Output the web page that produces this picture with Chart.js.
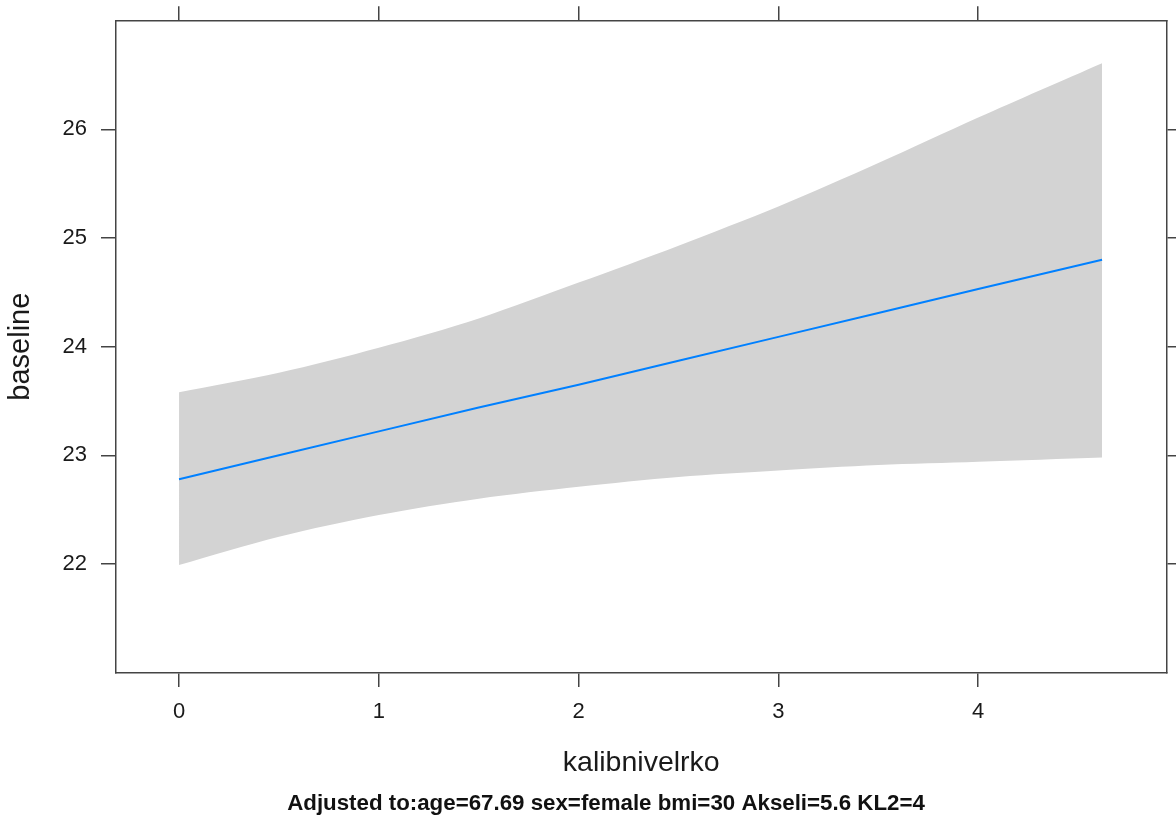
<!DOCTYPE html>
<html>
<head>
<meta charset="utf-8">
<script src="https://cdn.jsdelivr.net/npm/chart.js@4.4.1/dist/chart.umd.min.js"></script>
<style>
  html, body { margin: 0; padding: 0; background: #fff; }
  canvas { display: block; }
</style>
</head>
<body>
<canvas id="effectChart" width="1176" height="821"></canvas>
<script>
// effect of kalibnivelrko on baseline, with confidence band
const xValues = [0, 0.5, 1, 1.5, 2, 2.5, 3, 3.5, 4, 4.62];
const fitValues = [22.78, 23.0, 23.22, 23.44, 23.65, 23.87, 24.09, 24.31, 24.53, 24.80];
const upperValues = [23.58, 23.76, 23.99, 24.26, 24.59, 24.93, 25.29, 25.69, 26.11, 26.61];
const lowerValues = [21.99, 22.25, 22.45, 22.60, 22.71, 22.80, 22.86, 22.91, 22.94, 22.98];
const xTicks = [0, 1, 2, 3, 4];
const yTicks = [22, 23, 24, 25, 26];
const subtitle = 'Adjusted to:age=67.69 sex=female bmi=30 Akseli=5.6 KL2=4';

const FONT = "'Liberation Sans', Arial, Helvetica, sans-serif";
const axisColor = '#444';

function toPoints(ys) {
  return xValues.map((x, i) => ({ x: x, y: ys[i] }));
}

function setTicks(list) {
  return function (scale) {
    scale.ticks = list.map(v => ({ value: v }));
  };
}

// fixed box sizes so the plot frame lands where the reference has it
function fixSize(prop, size) {
  return function (scale) {
    scale[prop] = size;
    scale.paddingTop = 0;
    scale.paddingBottom = 0;
    scale.paddingLeft = 0;
    scale.paddingRight = 0;
  };
}

// bold "adjusted to" line under the x axis title
const subtitlePlugin = {
  id: 'subtitleLine',
  afterDraw(chart) {
    const c = chart.ctx;
    c.save();
    c.font = 'bold 22.3px ' + FONT;
    c.fillStyle = '#111';
    c.textAlign = 'center';
    c.textBaseline = 'alphabetic';
    c.fillText(subtitle, 606, 809.5);
    c.restore();
  }
};

const ctx = document.getElementById('effectChart');
new Chart(ctx, {
  type: 'line',
  data: {
    datasets: [
      {
        label: 'fit',
        data: toPoints(fitValues),
        borderColor: '#0080ff',
        borderWidth: 2,
        pointRadius: 0,
        fill: false,
        tension: 0
      },
      {
        label: 'lower',
        data: toPoints(lowerValues),
        borderWidth: 0,
        borderColor: 'rgba(0,0,0,0)',
        pointRadius: 0,
        fill: false,
        tension: 0.3
      },
      {
        label: 'upper',
        data: toPoints(upperValues),
        borderWidth: 0,
        borderColor: 'rgba(0,0,0,0)',
        backgroundColor: '#d3d3d3',
        pointRadius: 0,
        fill: '-1',
        tension: 0.3
      }
    ]
  },
  options: {
    responsive: false,
    animation: false,
    devicePixelRatio: 1,
    layout: { padding: 0 },
    plugins: {
      legend: { display: false },
      tooltip: { enabled: false }
    },
    scales: {
      x: {
        type: 'linear',
        position: 'bottom',
        min: -0.318,
        max: 4.945,
        afterBuildTicks: setTicks(xTicks),
        afterFit: fixSize('height', 148.5),
        border: { display: true, color: axisColor, width: 1.5 },
        grid: { drawOnChartArea: false, color: axisColor, lineWidth: 1.5, tickLength: 14.5 },
        ticks: { color: '#1a1a1a', font: { family: FONT, size: 22 }, padding: 12, maxRotation: 0 },
        title: {
          display: true,
          text: 'kalibnivelrko',
          color: '#1a1a1a',
          font: { family: FONT, size: 28.5, lineHeight: 1.2 },
          padding: { top: 0, bottom: 41 }
        }
      },
      xTop: {
        type: 'linear',
        position: 'top',
        min: -0.318,
        max: 4.945,
        afterBuildTicks: setTicks(xTicks),
        afterFit: fixSize('height', 20.8),
        border: { display: true, color: axisColor, width: 1.5 },
        grid: { drawOnChartArea: false, color: axisColor, lineWidth: 1.5, tickLength: 14.5 },
        ticks: { display: false }
      },
      y: {
        type: 'linear',
        position: 'left',
        min: 21.0,
        max: 27.0,
        afterBuildTicks: setTicks(yTicks),
        afterFit: fixSize('width', 115.5),
        border: { display: true, color: axisColor, width: 1.5 },
        grid: { drawOnChartArea: false, color: axisColor, lineWidth: 1.5, tickLength: 14.5 },
        ticks: { color: '#1a1a1a', font: { family: FONT, size: 22 }, padding: 14 },
        title: {
          display: true,
          text: 'baseline',
          color: '#1a1a1a',
          font: { family: FONT, size: 29, lineHeight: 1.2 },
          padding: { top: 3.6, bottom: 0 }
        }
      },
      yRight: {
        type: 'linear',
        position: 'right',
        min: 21.0,
        max: 27.0,
        afterBuildTicks: setTicks(yTicks),
        afterFit: fixSize('width', 9),
        border: { display: true, color: axisColor, width: 1.5 },
        grid: { drawOnChartArea: false, color: axisColor, lineWidth: 1.5, tickLength: 14.5 },
        ticks: { display: false }
      }
    }
  },
  plugins: [subtitlePlugin]
});
</script>
</body>
</html>
